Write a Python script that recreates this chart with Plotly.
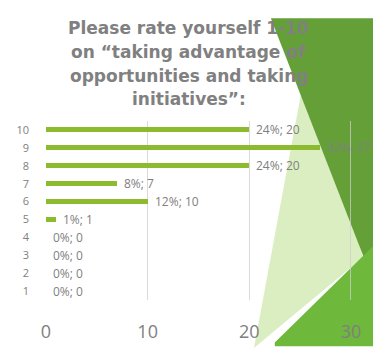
import plotly.graph_objects as go

# Survey responses: self-rating 1-10 and number of respondents per rating
ratings = [10, 9, 8, 7, 6, 5, 4, 3, 2, 1]
counts = [20, 27, 20, 7, 10, 1, 0, 0, 0, 0]
x_ticks = [0, 10, 20, 30]
title_lines = [
    "Please rate yourself 1-10",
    "on \u201ctaking advantage of",
    "opportunities and taking",
    "initiatives\u201d:",
]

total = sum(counts)
labels = [f"{round(c / total * 100)}%; {c}" for c in counts]

W, H = 373, 355
ML, MR, MT, MB = 46, 17, 121, 44
PW, PH = W - ML - MR, H - MT - MB


def px(x, y):
    """Pixel position on the page -> paper coordinates."""
    return (x - ML) / PW, (H - MB - y) / PH


def poly(points):
    pts = [px(x, y) for x, y in points]
    return "M " + " L ".join(f"{a:.4f},{b:.4f}" for a, b in pts) + " Z"


GRAY = "#808080"

fig = go.Figure()
fig.add_trace(go.Bar(
    x=counts,
    y=ratings,
    orientation="h",
    width=0.28,
    marker=dict(color="#8dbb2f", line=dict(width=0)),
    hoverinfo="skip",
))

annotations = []
for r, c, lab in zip(ratings, counts, labels):
    annotations.append(dict(
        x=c, y=r, xref="x", yref="y", text=lab, showarrow=False,
        xanchor="left", yanchor="middle", xshift=5,
        font=dict(family="Open Sans", size=12, color=GRAY),
    ))

title_y = [22, 48, 73, 98]
for line, ty in zip(title_lines, title_y):
    ax, ay = px(190, ty)
    annotations.append(dict(
        x=ax, y=ay, xref="paper", yref="paper", text=f"<b>{line}</b>",
        showarrow=False, xanchor="center", yanchor="middle",
        font=dict(family="DejaVu Sans", size=17, color=GRAY),
    ))

# Decorative facet triangles on the right-hand side of the slide
shapes = [
    dict(type="path", xref="paper", yref="paper", layer="below",
         path=poly([(310, 55), (366, 266), (256, 362)]),
         fillcolor="rgba(170,215,110,0.42)", line=dict(width=0)),
    dict(type="path", xref="paper", yref="paper", layer="below",
         path=poly([(273, 12), (380, 12), (380, 301)]),
         fillcolor="#64a037", line=dict(width=0)),
    dict(type="path", xref="paper", yref="paper", layer="below",
         path=poly([(277, 356), (380, 250), (380, 360), (277, 360)]),
         fillcolor="#6eb83c", line=dict(width=0)),
]

fig.update_layout(
    width=W, height=H,
    margin=dict(l=ML, r=MR, t=MT, b=MB),
    paper_bgcolor="white",
    plot_bgcolor="rgba(0,0,0,0)",
    showlegend=False,
    annotations=annotations,
    shapes=shapes,
    bargap=0,
)
fig.update_xaxes(
    range=[0, 30.2], tickvals=x_ticks, ticks="", showline=False,
    showgrid=True, gridcolor="rgba(205,205,205,0.75)", gridwidth=1,
    zeroline=False, ticklabelstandoff=19,
    tickfont=dict(family="Open Sans", size=18, color=GRAY),
)
fig.update_yaxes(
    range=[0.5, 10.5], tickvals=ratings, ticks="", showline=False,
    showgrid=False, zeroline=False, ticklabelstandoff=16,
    tickfont=dict(family="Open Sans", size=11, color=GRAY),
)

fig.write_html("out.html")
